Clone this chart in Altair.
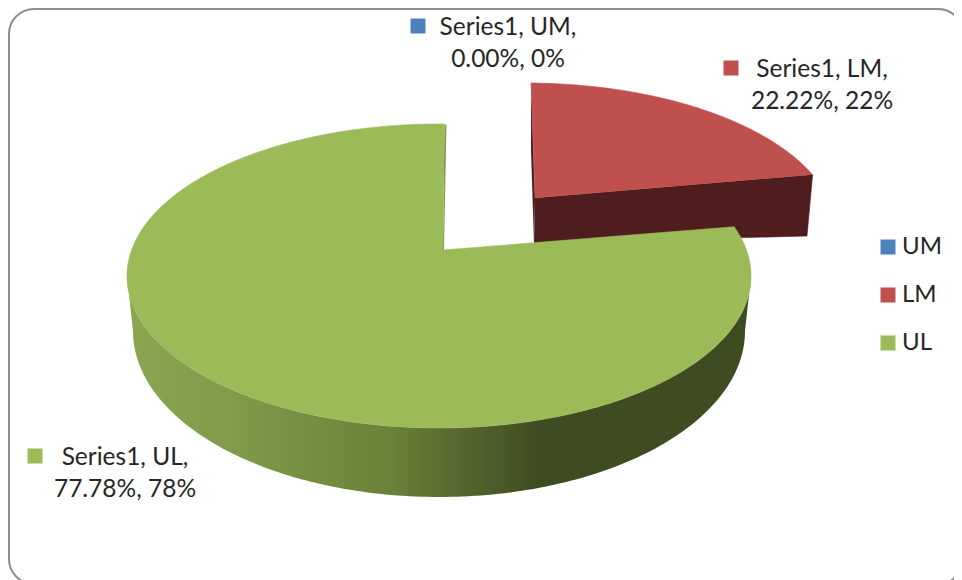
import math
import altair as alt
import pandas as pd

categories = ["UM", "LM", "UL"]
values = [0.0, 22.22, 77.78]
pct_labels = ["0%", "22%", "78%"]
colors = ["#4f81bd", "#c0504d", "#9bbb59"]

# data-label anchors (centre of text block), in picture pixels
label_x = [508, 822, 125]
label_y = [28, 70, 458]
marker_x = [418, 731, 35]
marker_y = [26, 68, 456]
LINE = 32

FONT = "Lato"
TEXT = "#262626"
X_DOM = [8, 954]
Y_DOM = [580, 8]
xs = alt.Scale(domain=X_DOM, nice=False, zero=False)
ys = alt.Scale(domain=Y_DOM, nice=False, zero=False)


def project(theta, a):
    """Pie angle (clockwise from 12 o'clock) to unit-ellipse coordinates under perspective."""
    u, v = math.sin(theta), math.cos(theta)
    d = 1 + a * v
    return u * math.sqrt(1 - a * a) / d, (v + a) / d


def sweep(start, stop, n=90):
    return [start + (stop - start) * i / n for i in range(n + 1)]


def poly(points, fill, stroke=None):
    df = pd.DataFrame(points, columns=["x", "y"])
    df["o"] = range(len(df))
    return alt.Chart(df).mark_line(
        fill=fill, stroke=stroke or "transparent", strokeWidth=0.6 if stroke else 0,
        interpolate="linear", clip=False,
    ).encode(
        x=alt.X("x:Q", scale=xs, axis=None),
        y=alt.Y("y:Q", scale=ys, axis=None),
        order="o:Q",
    )


start0 = math.radians(1.2)
total = sum(values)
lm_end = start0 + 2 * math.pi * (values[0] + values[1]) / total
ul_end = start0 + 2 * math.pi

# Green slice
G = dict(cx=439, cy=276, rx=312, ry=152, a=0.18)
def gp(t):
    u, v = project(t, G["a"])
    return (G["cx"] + G["rx"] * u, G["cy"] - G["ry"] * v)
g_apex = (443, 250)
g_arc = [gp(t) for t in sweep(lm_end, ul_end, 240)]
g_top = poly([g_apex] + g_arc, colors[2], colors[2])

# Green wall: lower half of the top rim, and lower half of the base rim
B = dict(cx=439, cy=331, rx=306, ry=166)
rim_front = [(G["cx"] + G["rx"] * math.cos(t), G["cy"] + G["ry"] * math.sin(t))
             for t in sweep(0, math.pi, 160)]
base_back = [(B["cx"] + B["rx"] * math.cos(t), B["cy"] + B["ry"] * math.sin(t))
             for t in sweep(math.pi, 0, 160)]
side_fill = alt.Gradient(
    gradient="linear", x1=0, x2=1, y1=0, y2=0,
    stops=[
        alt.GradientStop(offset=0, color="#8ba650"),
        alt.GradientStop(offset=0.18, color="#7f9a49"),
        alt.GradientStop(offset=0.42, color="#6a8239"),
        alt.GradientStop(offset=0.66, color="#3f4b21"),
        alt.GradientStop(offset=1, color="#3f4b21"),
    ],
)
g_side = poly(rim_front + base_back, side_fill)
g_end = gp(ul_end)
g_wall = poly([g_apex, g_end, (g_end[0] + 2, g_end[1] + 1), (g_apex[0] + 1, g_apex[1])], "#7c9a47")

# Red slice
R = dict(cx=526, cy=233, rx=311, ry=150, a=0.25)
def rp(t):
    u, v = project(t, R["a"])
    return (R["cx"] + R["rx"] * u, R["cy"] - R["ry"] * v)
r_apex = (535, 198)
r_arc = [rp(t) for t in sweep(start0, lm_end, 80)]
r_top = poly([r_apex] + r_arc, colors[1], colors[1])
r_side = poly([r_apex, r_arc[-1], (807, 236), (534, 243)], "#4f1d1d", "#4f1d1d")
r_wall = poly([r_arc[0], (531, 150), (534, 243), r_apex], "#4f1d1d")

# Frame
frame = alt.Chart(pd.DataFrame({"x": [9], "x2": [963], "y": [9], "y2": [584]})).mark_rect(
    fill="white", stroke="#8e8e8e", strokeWidth=2, cornerRadius=25, clip=False,
).encode(
    x=alt.X("x:Q", scale=xs, axis=None), x2="x2:Q",
    y=alt.Y("y:Q", scale=ys, axis=None), y2="y2:Q",
)

# Data labels
rows = []
for c, v, p, lx, ly in zip(categories, values, pct_labels, label_x, label_y):
    rows.append({"x": lx, "y": ly, "t": f"Series1, {c},"})
    rows.append({"x": lx, "y": ly + LINE, "t": f"{v:.2f}%, {p}"})
labels = alt.Chart(pd.DataFrame(rows)).mark_text(
    font=FONT, fontSize=24.5, color=TEXT, align="center", baseline="middle",
).encode(
    x=alt.X("x:Q", scale=xs, axis=None),
    y=alt.Y("y:Q", scale=ys, axis=None),
    text="t:N",
)

# Label markers, carrying the legend
markers = alt.Chart(pd.DataFrame({"x": marker_x, "y": marker_y, "c": categories})).mark_point(
    shape="square", filled=True, size=225, opacity=1,
).encode(
    x=alt.X("x:Q", scale=xs, axis=None),
    y=alt.Y("y:Q", scale=ys, axis=None),
    color=alt.Color(
        "c:N",
        scale=alt.Scale(domain=categories, range=colors),
        legend=alt.Legend(
            title=None, orient="none", legendX=868, legendY=227,
            symbolType="square", symbolSize=225, symbolOpacity=1, symbolStrokeWidth=0,
            labelFont=FONT, labelFontSize=24, labelColor=TEXT, labelOffset=2,
            rowPadding=24, symbolOffset=0,
        ),
    ),
)

chart = alt.layer(
    frame, r_side, r_wall, r_top, g_side, g_wall, g_top, labels, markers,
).properties(
    width=946, height=572, padding=0, autosize=alt.AutoSizeParams(type="none"),
    background="white",
).configure_view(stroke=None)

chart.save("out.html", embed_options={"renderer": "svg", "actions": False})
